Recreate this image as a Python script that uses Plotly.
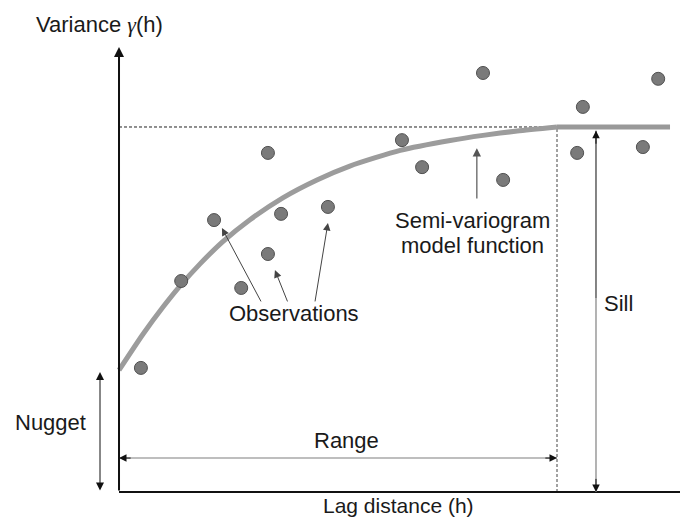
import plotly.graph_objects as go

# ---- data (lag distance h, semi-variance gamma) ----
lag_obs = [0.50, 1.42, 2.17, 2.79, 3.40, 3.40, 3.70, 4.77, 6.46, 6.92, 8.31, 8.77, 10.59, 10.46, 12.31, 11.96]
gamma_obs = [3.40, 5.78, 7.45, 5.59, 9.29, 6.52, 7.62, 7.81, 9.64, 8.90, 11.48, 8.55, 10.55, 9.29, 11.32, 9.45]

lag_model = [0.00, 0.55, 1.00, 1.39, 1.85, 2.37, 2.99, 3.74, 4.52, 5.27, 6.42, 7.56, 8.31, 9.09, 10.00]
gamma_model = [3.34, 4.33, 5.06, 5.64, 6.25, 6.86, 7.46, 8.06, 8.55, 8.93, 9.36, 9.63, 9.77, 9.89, 10.00]
lag_flat = [10.00, 12.58]

nugget = 3.34
sill = 10.0
range_ = 10.0

X_RANGE = [-2.717, 12.808]
Y_RANGE = [-0.767, 13.479]

FONT = "Liberation Sans, Arial, sans-serif"
TXT = "#1a1a1a"

fig = go.Figure()

# model curve
fig.add_trace(go.Scatter(x=lag_model, y=gamma_model, mode="lines",
                         line=dict(color="#9c9c9c", width=5, shape="spline", smoothing=0.6),
                         hoverinfo="skip", showlegend=False))
fig.add_trace(go.Scatter(x=lag_flat, y=[sill, sill], mode="lines",
                         line=dict(color="#999999", width=5),
                         hoverinfo="skip", showlegend=False))

# observations
fig.add_trace(go.Scatter(x=lag_obs, y=gamma_obs, mode="markers",
                         marker=dict(size=13, color="#7a7a7a", line=dict(color="#505050", width=1)),
                         hoverinfo="skip", showlegend=False))

# dashed sill and range guides
fig.add_shape(type="line", x0=0, y0=sill, x1=range_, y1=sill,
              line=dict(color="#222", width=1, dash="3px,2px"), layer="below")
fig.add_shape(type="line", x0=range_, y0=0, x1=range_, y1=sill,
              line=dict(color="#444", width=1, dash="3px,2px"), layer="below")

# axes
fig.add_shape(type="line", x0=0, y0=0, x1=X_RANGE[1], y1=0, line=dict(color="#111", width=2))


def arrow(x, y, ax, ay, color="#111", width=1.0, size=1.6, both=False):
    kw = dict(x=x, y=y, ax=ax, ay=ay, xref="x", yref="y", axref="x", ayref="y",
              text="", showarrow=True, arrowhead=2, arrowsize=size, arrowwidth=width,
              arrowcolor=color)
    if both:
        kw.update(arrowside="end+start", startarrowhead=2, startarrowsize=size)
    fig.add_annotation(**kw)


# y axis with arrow
arrow(0, 12.19, 0, 0, color="#111", width=2, size=1.0)

# nugget double arrow
arrow(-0.434, nugget - 0.05, -0.434, 0.0, color="#111", width=1.0, size=1.6, both=True)

# range arrow: gray shaft, black heads
y_rng = 0.93
fig.add_shape(type="line", x0=0, y0=y_rng, x1=range_, y1=y_rng, line=dict(color="#a8a8a8", width=1.5))
arrow(0, y_rng, 0.3, y_rng, color="#111", width=1.0, size=1.5)
arrow(range_, y_rng, range_ - 0.3, y_rng, color="#111", width=1.0, size=1.5)

# sill arrow: dark upper shaft, gray lower shaft
x_sill = 10.89
fig.add_shape(type="line", x0=x_sill, y0=sill - 0.1, x1=x_sill, y1=5.3, line=dict(color="#333", width=1.2))
fig.add_shape(type="line", x0=x_sill, y0=5.3, x1=x_sill, y1=0, line=dict(color="#9a9a9a", width=1.5))
arrow(x_sill, sill - 0.1, x_sill, sill - 0.5, color="#111", width=1.0, size=1.5)
arrow(x_sill, 0.0, x_sill, 0.4, color="#111", width=1.0, size=1.5)

# semi-variogram model pointer
arrow(8.17, 9.42, 8.17, 8.0, color="#555", width=1.2, size=1.4)

# observation pointers
arrow(2.35, 7.23, 3.26, 5.18, color="#444", width=1.0, size=1.5)
arrow(3.56, 6.08, 3.86, 5.18, color="#444", width=1.0, size=1.5)
arrow(4.77, 7.37, 4.47, 5.18, color="#444", width=1.0, size=1.5)


def label(text, x, y, xanchor="center", size=22):
    fig.add_annotation(x=x / 680, y=1 - y / 520, xref="paper", yref="paper", text=text,
                       showarrow=False, xanchor=xanchor, yanchor="middle", borderpad=0,
                       font=dict(family=FONT, size=size, color=TXT))


label('Variance <span style="font-family:Liberation Serif;font-style:italic">γ</span>(h)', 99, 24)
label("Lag distance (h)", 398, 505, size=21)
label("Nugget", 50, 422)
label("Range", 346, 440)
label("Sill", 603, 303, xanchor="left")
label("Observations", 294, 313)
label("Semi-variogram", 472, 220)
label("model function", 472, 245)

fig.update_layout(
    width=680, height=520,
    margin=dict(l=0, r=0, t=0, b=0, pad=0),
    paper_bgcolor="white", plot_bgcolor="white",
    xaxis=dict(range=X_RANGE, visible=False, fixedrange=True),
    yaxis=dict(range=Y_RANGE, visible=False, fixedrange=True),
    showlegend=False,
)

fig.write_html("out.html")
